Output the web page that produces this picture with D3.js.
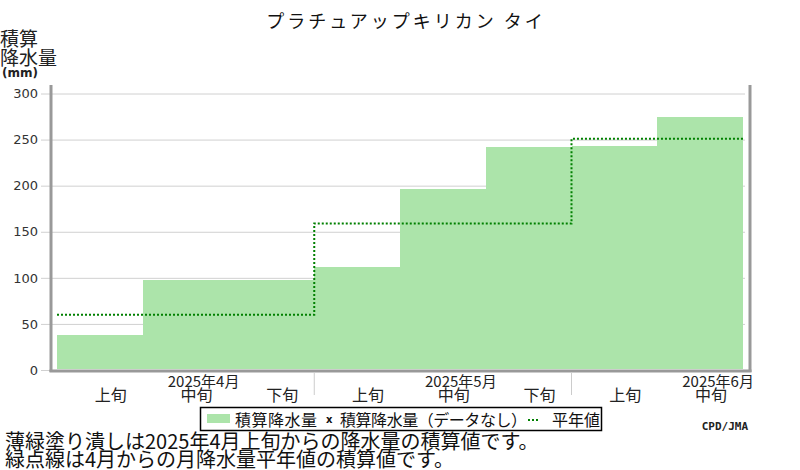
<!DOCTYPE html>
<html><head><meta charset="utf-8">
<script src="https://cdn.jsdelivr.net/npm/d3@7"></script>
<style>
html,body{margin:0;padding:0;background:#fff;}
svg{display:block;font-family:"Noto Sans CJK JP","Noto Sans",sans-serif;}
</style></head>
<body>
<svg id="chart" width="800" height="470"></svg>
<script>
const title = "プラチュアップキリカン タイ";
const monthLabels = ["2025年4月", "2025年5月", "2025年6月"];
const dekadLabels = ["上旬", "中旬", "下旬", "上旬", "中旬", "下旬", "上旬", "中旬"];
const cumPrecip = [38, 97.5, 97.5, 111.5, 196.5, 241.5, 243.5, 274.5];
const normalCum = [60, 159, 251];
const yTicks = [0, 50, 100, 150, 200, 250, 300];
const notes = ["薄緑塗り潰しは2025年4月上旬からの降水量の積算値です。", "緑点線は4月からの月降水量平年値の積算値です。"];

const svg = d3.select("#chart");
const x = d3.scaleLinear().domain([0, dekadLabels.length]).range([57, 743]);
const y = d3.scaleLinear().domain([0, 300]).range([370, 93.5]);

// gridlines + y labels
const yAxis = d3.axisLeft(y).tickValues(yTicks).tickSize(-(745 - 41)).tickPadding(3);
const ga = svg.append("g").attr("transform", "translate(41,0)").call(yAxis);
ga.select(".domain").remove();
ga.selectAll(".tick line").attr("stroke", "#d0d0d0").attr("stroke-width", 1);
ga.selectAll(".tick text").attr("font-family", "DejaVu Sans").attr("font-size", 13).attr("fill", "#333");

// bars
svg.append("g").attr("shape-rendering", "crispEdges").selectAll("rect").data(cumPrecip).join("rect")
  .attr("x", (d, i) => Math.round(x(i)))
  .attr("width", (d, i) => Math.round(x(i + 1)) - Math.round(x(i)))
  .attr("y", d => y(d))
  .attr("height", d => y(0) - 1 - y(d))
  .attr("fill", "#ace4aa");

// normal step line
const steps = [];
normalCum.forEach((v, m) => {
  const a = Math.min(m * 3, dekadLabels.length), b = Math.min(m * 3 + 3, dekadLabels.length);
  steps.push([x(a), y(v)], [x(b), y(v)]);
});
svg.append("path").attr("d", d3.line()(steps))
  .attr("fill", "none").attr("stroke", "#008000").attr("stroke-width", 2).attr("stroke-dasharray", "2,2");

// axes frame
svg.append("line").attr("x1", 51).attr("x2", 51).attr("y1", 85).attr("y2", 372).attr("stroke", "#999").attr("stroke-width", 3);
svg.append("line").attr("x1", 750).attr("x2", 750).attr("y1", 85).attr("y2", 372).attr("stroke", "#999").attr("stroke-width", 3);
svg.append("line").attr("x1", 49.5).attr("x2", 751.5).attr("y1", 371).attr("y2", 371).attr("stroke", "#999").attr("stroke-width", 3);

// month separators
[3, 6].forEach(i => {
  svg.append("line").attr("x1", x(i)).attr("x2", x(i)).attr("y1", 372).attr("y2", 395).attr("stroke", "#ccc").attr("stroke-width", 1);
});

// x labels
svg.append("g").selectAll("text").data(dekadLabels).join("text")
  .attr("x", (d, i) => x(i + 0.5) + 11).attr("y", 401)
  .attr("text-anchor", "middle").attr("font-size", 16).attr("fill", "#222").text(d => d);
svg.append("g").selectAll("text").data(monthLabels).join("text")
  .attr("x", (d, i) => x(i * 3 + 1.5) + 18).attr("y", 387)
  .attr("text-anchor", "middle").attr("font-size", 15).attr("fill", "#222").text(d => d);

// title
svg.append("text").attr("x", 406).attr("y", 28).attr("text-anchor", "middle")
  .attr("font-size", 18).attr("letter-spacing", 3).attr("fill", "#111").text(title);

// y label
svg.append("text").attr("x", 0).attr("y", 46).attr("font-size", 19).attr("fill", "#222").text("積算");
svg.append("text").attr("x", 0).attr("y", 65).attr("font-size", 19).attr("fill", "#222").text("降水量");
svg.append("text").attr("x", 2).attr("y", 77).attr("font-size", 12).attr("font-weight", "bold").attr("font-family", "DejaVu Sans").attr("fill", "#222").text("(mm)");

// legend
svg.append("rect").attr("x", 200.5).attr("y", 407.5).attr("width", 401).attr("height", 23)
  .attr("fill", "#fff").attr("stroke", "#000").attr("stroke-width", 1.5);
svg.append("rect").attr("x", 207).attr("y", 414).attr("width", 23).attr("height", 9).attr("fill", "#ace4aa");
svg.append("text").attr("x", 235).attr("y", 426).attr("font-size", 16).attr("letter-spacing", 0.5).attr("fill", "#111").text("積算降水量");
svg.append("text").attr("x", 326).attr("y", 423).attr("font-size", 10).attr("font-weight", "bold").attr("font-family", "DejaVu Sans").attr("fill", "#111").text("x");
svg.append("text").attr("x", 340).attr("y", 426).attr("font-size", 16).attr("fill", "#111")
  .attr("textLength", 187).attr("lengthAdjust", "spacing").text("積算降水量（データなし）");
svg.append("line").attr("x1", 528).attr("x2", 538).attr("y1", 420).attr("y2", 420)
  .attr("stroke", "#008000").attr("stroke-width", 2).attr("stroke-dasharray", "2,2");
svg.append("text").attr("x", 552).attr("y", 426).attr("font-size", 16).attr("fill", "#111").text("平年値");

svg.append("text").attr("x", 748).attr("y", 430).attr("text-anchor", "end").attr("font-size", 11)
  .attr("font-weight", "bold").attr("font-family", "DejaVu Sans Mono").attr("fill", "#222").text("CPD/JMA");

// notes
svg.append("g").selectAll("text").data(notes).join("text")
  .attr("x", 5).attr("y", (d, i) => 448.5 + i * 18.5).attr("font-size", 20).attr("fill", "#111").text(d => d);
</script>
</body></html>
